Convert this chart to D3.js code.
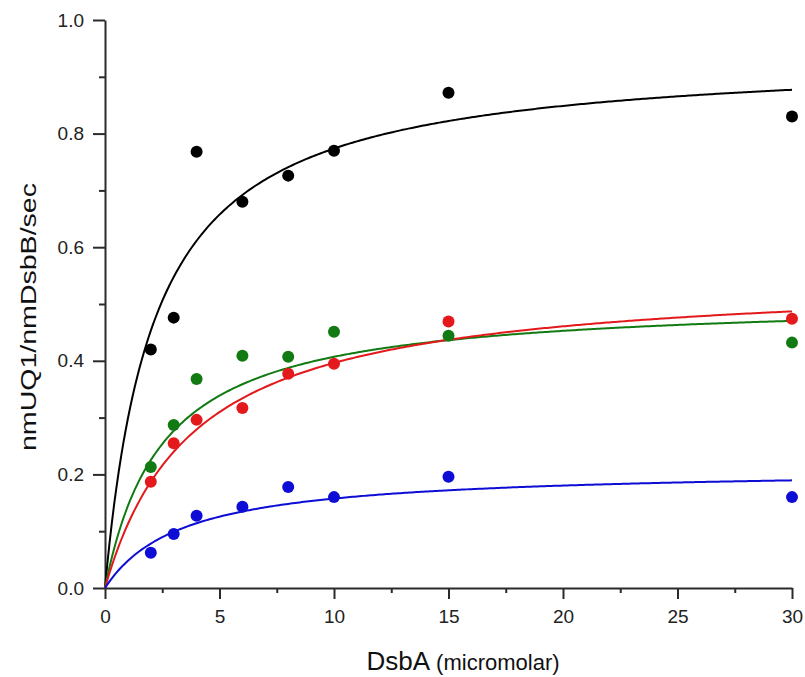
<!DOCTYPE html>
<html>
<head>
<meta charset="utf-8">
<script src="https://cdn.jsdelivr.net/npm/d3@7"></script>
<style>
  html, body { margin: 0; padding: 0; background: #fff; }
  svg { display: block; font-family: "Liberation Sans", Arial, Helvetica, sans-serif; }
</style>
</head>
<body>
<svg id="chart" width="805" height="677"></svg>
<script>
// DsbA concentrations (micromolar) used for every series
const dsbA = [2, 3, 4, 6, 8, 10, 15, 30];

// Measured rates, nmUQ1/nmDsbB/sec
const seriesNames = ["black", "green", "red", "blue"];
const seriesColors = ["#000000", "#127a12", "#e3191b", "#0d0dd6"];
const blackRates = [0.420, 0.476, 0.768, 0.680, 0.726, 0.770, 0.872, 0.830];
const greenRates = [0.213, 0.287, 0.368, 0.409, 0.407, 0.451, 0.444, 0.432];
const redRates   = [0.187, 0.255, 0.296, 0.317, 0.377, 0.395, 0.469, 0.474];
const blueRates  = [0.062, 0.095, 0.127, 0.143, 0.178, 0.160, 0.196, 0.160];

// Michaelis-Menten fit parameters per series: Vmax and Km
const fitVmax = [0.94, 0.51, 0.55, 0.211];
const fitKm   = [2.15, 2.53, 3.88, 3.4];

// Axis ticks
const xTicks = [0, 5, 10, 15, 20, 25, 30];
const xMinorTicks = [2.5, 7.5, 12.5, 17.5, 22.5, 27.5];
const yTicks = [0, 0.2, 0.4, 0.6, 0.8, 1.0];
const yMinorTicks = [0.1, 0.3, 0.5, 0.7, 0.9];

const rates = [blackRates, greenRates, redRates, blueRates];

const svg = d3.select("#chart");
const x = d3.scaleLinear().domain([0, 30]).range([105, 792]);
const y = d3.scaleLinear().domain([0, 1]).range([588, 20]);

const axisColor = "#2b2b2b";

// Y axis
const yAxis = svg.append("g").attr("transform", `translate(${x(0)},0)`);
yAxis.call(d3.axisLeft(y).tickValues(yTicks).tickSize(12).tickSizeOuter(0)
  .tickFormat(d3.format(".1f")).tickPadding(9));
yAxis.append("g").call(d3.axisLeft(y).tickValues(yMinorTicks).tickSize(6)
  .tickSizeOuter(0).tickFormat(""))
  .select(".domain").remove();

// X axis
const xAxis = svg.append("g").attr("transform", `translate(0,${y(0)})`);
xAxis.call(d3.axisBottom(x).tickValues(xTicks).tickSize(11).tickSizeOuter(0)
  .tickFormat(d3.format("d")).tickPadding(11));
xAxis.append("g").call(d3.axisBottom(x).tickValues(xMinorTicks).tickSize(5)
  .tickSizeOuter(0).tickFormat(""))
  .select(".domain").remove();

svg.selectAll(".domain").attr("stroke", axisColor).attr("stroke-width", 2);
svg.selectAll(".tick line").attr("stroke", axisColor).attr("stroke-width", 2);
svg.selectAll(".tick text").attr("font-size", 19).attr("fill", "#222")
  .attr("font-family", "Liberation Sans, Arial, sans-serif");

// Axis titles
svg.append("text")
  .attr("transform", `translate(36,${317}) rotate(-90)`)
  .attr("text-anchor", "middle")
  .attr("font-size", 22)
  .attr("fill", "#111")
  .attr("textLength", 268)
  .attr("lengthAdjust", "spacingAndGlyphs")
  .text("nmUQ1/nmDsbB/sec");

const xTitle = svg.append("text")
  .attr("x", 463)
  .attr("y", 670)
  .attr("text-anchor", "middle")
  .attr("fill", "#111");
xTitle.append("tspan").attr("font-size", 26).text("DsbA");
xTitle.append("tspan").attr("font-size", 22).text(" (micromolar)");

// Fitted curves
const line = d3.line().x(d => x(d[0])).y(d => y(d[1]));
const samples = d3.range(0, 30.0001, 0.1);
seriesNames.forEach((name, i) => {
  const pts = samples.map(c => [c, fitVmax[i] * c / (fitKm[i] + c)]);
  svg.append("path")
    .datum(pts)
    .attr("class", "fit " + name)
    .attr("fill", "none")
    .attr("stroke", seriesColors[i])
    .attr("stroke-width", 2)
    .attr("d", line);
});

// Data points
seriesNames.forEach((name, i) => {
  svg.append("g").attr("class", "pts " + name)
    .selectAll("circle")
    .data(dsbA.map((c, j) => [c, rates[i][j]]))
    .join("circle")
    .attr("cx", d => x(d[0]))
    .attr("cy", d => y(d[1]))
    .attr("r", 6)
    .attr("fill", seriesColors[i]);
});
</script>
</body>
</html>
